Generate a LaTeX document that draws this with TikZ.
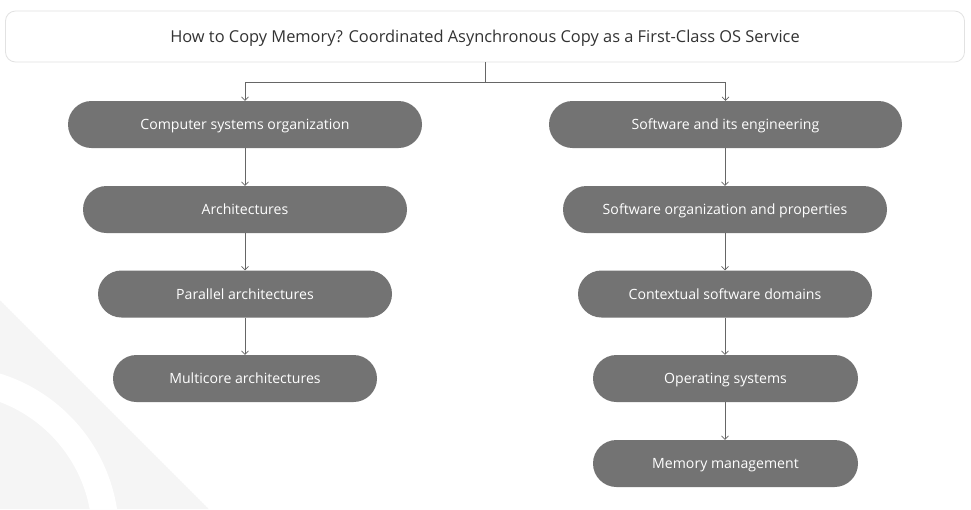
\documentclass[tikz,border=0pt]{standalone}
\usepackage{fontspec}
\setmainfont{Open Sans}
\usetikzlibrary{arrows.meta}
\definecolor{boxgray}{HTML}{737373}
\definecolor{linegray}{HTML}{666666}
\definecolor{wmgray}{HTML}{F5F5F5}
\definecolor{titleborder}{HTML}{E2E2E2}
\definecolor{titletext}{HTML}{333333}
\tikzset{
  pill/.style={draw=none, fill=boxgray, text=white, rounded corners=23.5pt,
    minimum height=47pt, inner sep=0pt, text height=12pt, text depth=2pt,
    font=\fontsize{14.1}{16}\selectfont},
  titlebox/.style={draw=titleborder, line width=0.8pt, fill=white, rounded corners=10pt,
    minimum width=959pt, minimum height=51pt, inner sep=0pt, text=titletext,
    text height=14pt, text depth=2pt,
    font=\fontsize{16.4}{19}\selectfont},
  conn/.style={draw=linegray, line width=0.8pt, -{Straight Barb[length=3.5pt,width=7pt,line width=0.6pt]}},
}
\begin{document}
\begin{tikzpicture}[x=1pt,y=-1pt]
\useasboundingbox (0,0) rectangle (971,509);
\fill[white] (0,0) rectangle (971,509);
\begin{scope}
  \clip (0,300) -- (209,509) -- (0,509) -- cycle;
  \fill[wmgray] (0,300) -- (209,509) -- (0,509) -- cycle;
  \fill[white, even odd rule] (-50,535) circle[radius=169pt] (-50,535) circle[radius=142pt];
\end{scope}

\node[titlebox] (title) at (485,36.5) {How to Copy Memory? Coordinated Asynchronous Copy as a First-Class OS Service};

\node[pill, minimum width=354pt] (L1) at (245,124.5) {Computer systems organization};
\node[pill, minimum width=324pt] (L2) at (245,209.5) {Architectures};
\node[pill, minimum width=294pt] (L3) at (245,294) {Parallel architectures};
\node[pill, minimum width=264pt] (L4) at (245,378.5) {Multicore architectures};

\node[pill, minimum width=353pt] (R1) at (725.5,124.5) {Software and its engineering};
\node[pill, minimum width=324pt] (R2) at (725,209.5) {Software organization and properties};
\node[pill, minimum width=294pt] (R3) at (725,294) {Contextual software domains};
\node[pill, minimum width=265pt] (R4) at (725.5,378.5) {Operating systems};
\node[pill, minimum width=265pt] (R5) at (725.5,463.5) {Memory management};

\coordinate (j) at (485,82);
\draw[conn] (title.south) -- (j) -| (L1.north);
\draw[conn] (title.south) -- (j) -| (R1.north);
\draw[conn] (L1) -- (L2);
\draw[conn] (L2) -- (L3);
\draw[conn] (L3) -- (L4);
\draw[conn] (R1.south -| 725,0) -- (R2.north -| 725,0);
\draw[conn] (R2) -- (R3);
\draw[conn] (R3.south -| 725,0) -- (R4.north -| 725,0);
\draw[conn] (R4.south -| 725,0) -- (R5.north -| 725,0);
\end{tikzpicture}
\end{document}
